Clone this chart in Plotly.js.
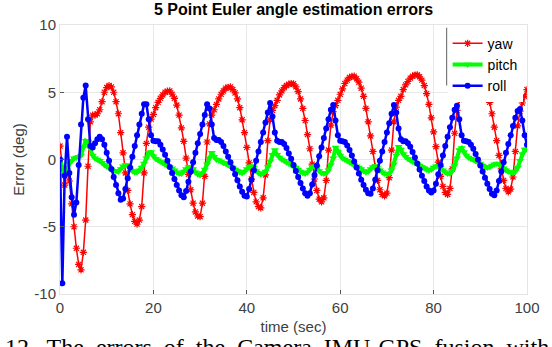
<!DOCTYPE html>
<html>
<head>
<meta charset="utf-8">
<script src="https://cdn.plot.ly/plotly-3.0.1.min.js"></script>
<style>
  html, body { margin: 0; padding: 0; background: #ffffff; }
  #chart { width: 552px; height: 347px; }
</style>
</head>
<body>
<div id="chart"></div>
<script>
// Euler angle estimation errors (deg), sampled every 0.5 s from t = 0 to 100 s
const sampleStart = 0;
const sampleStep = 0.5;

const yaw = [
  1.0, -0.6, -1.9, -0.8, -1.6, -3.3, -5.0, -6.6, -7.8, -8.2,
  -6.9, -4.5, -0.5, 2.8, 3.3, 3.3, 3.4, 3.7, 4.3, 5.0,
  5.35, 5.5, 5.4, 5.0, 4.3, 3.4, 2.0, 0.5, -1.0, -2.3,
  -3.3, -4.1, -4.6, -4.8, -4.5, -3.5, -1.0, 1.2, 2.4, 3.0,
  3.35, 3.85, 4.25, 4.55, 4.8, 5.0, 5.08, 5.1, 4.85, 4.55,
  4.05, 3.3, 2.35, 1.35, 0.1, -1.1, -2.25, -3.25, -3.9, -4.2,
  -4.25, -3.25, -1.25, 1.3, 2.65, 3.3, 3.7, 4.1, 4.5, 4.85,
  5.1, 5.3, 5.37, 5.4, 5.2, 4.95, 4.5, 3.85, 2.95, 2.0,
  0.9, -0.25, -1.45, -2.45, -3.15, -3.5, -3.6, -2.85, -1.15, 1.4,
  2.95, 3.65, 4.0, 4.4, 4.8, 5.1, 5.35, 5.5, 5.6, 5.65,
  5.63, 5.4, 5.05, 4.5, 3.8, 2.9, 1.85, 0.8, -0.35, -1.45,
  -2.3, -2.95, -3.15, -2.85, -1.55, 0.7, 2.55, 3.55, 4.0, 4.4,
  4.85, 5.25, 5.65, 5.9, 6.1, 6.18, 6.2, 6.0, 5.75, 5.3,
  4.7, 3.8, 2.8, 1.75, 0.6, -0.55, -1.55, -2.25, -2.6, -2.7,
  -2.5, -1.35, 0.7, 2.8, 3.9, 4.4, 4.7, 5.2, 5.55, 5.8,
  6.05, 6.2, 6.28, 6.3, 6.15, 5.9, 5.5, 4.9, 4.1, 3.1,
  2.05, 0.95, -0.2, -1.25, -2.0, -2.45, -2.6, -2.15, -0.7, 1.95,
  3.65, 4.45, 4.85, 5.2, 5.4, 5.6, 5.75, 5.88, 5.95, 6.0,
  6.0, 5.75, 5.4, 4.9, 4.25, 3.4, 2.4, 1.4, 0.3, -0.7,
  -1.55, -2.15, -2.4, -2.2, -1.3, 0.6, 2.5, 3.6, 4.2, 4.7,
  5.2
];

const pitch = [
  0.0, -0.6, -1.2, -0.8, -0.3, -0.1, 0.1, 0.15, 0.2, 0.3,
  0.9, 1.4, 1.3, 0.8, 0.3, 0.1, 0.0, -0.1, -0.25, -0.4,
  -0.5, -0.6, -0.75, -0.85, -0.85, -0.9, -0.7, -0.5, -0.4, -0.45,
  -0.65, -0.85, -0.95, -0.95, -0.8, -0.6, -0.3, 0.1, 0.5, 0.55,
  0.25, 0.05, -0.05, -0.15, -0.25, -0.35, -0.45, -0.55, -0.65, -0.8,
  -0.95, -1.05, -1.05, -0.9, -0.7, -0.55, -0.55, -0.7, -0.95, -1.1,
  -1.15, -1.0, -0.75, -0.35, 0.1, 0.5, 0.2, 0.0, -0.05, -0.15,
  -0.25, -0.3, -0.4, -0.5, -0.6, -0.75, -0.85, -0.95, -1.0, -0.9,
  -0.7, -0.55, -0.5, -0.6, -0.85, -1.0, -1.1, -1.05, -0.9, -0.55,
  -0.15, 0.35, 0.7, 0.35, 0.15, 0.0, -0.1, -0.2, -0.3, -0.4,
  -0.5, -0.6, -0.75, -0.9, -1.0, -1.05, -0.95, -0.75, -0.55, -0.5,
  -0.6, -0.85, -1.0, -1.05, -1.0, -0.8, -0.4, 0.1, 0.9, 0.6,
  0.3, 0.1, 0.0, -0.1, -0.2, -0.3, -0.4, -0.5, -0.6, -0.7,
  -0.85, -0.95, -0.9, -0.7, -0.55, -0.5, -0.6, -0.8, -0.95, -1.05,
  -1.1, -1.05, -0.8, -0.35, 0.3, 0.95, 0.75, 0.4, 0.2, 0.05,
  -0.05, -0.15, -0.25, -0.35, -0.45, -0.55, -0.65, -0.75, -0.8, -0.75,
  -0.6, -0.5, -0.5, -0.6, -0.8, -0.95, -1.05, -1.05, -0.85, -0.45,
  0.1, 0.7, 0.85, 0.55, 0.3, 0.15, 0.05, 0.0, -0.1, -0.2,
  -0.3, -0.45, -0.55, -0.6, -0.55, -0.45, -0.35, -0.3, -0.35, -0.5,
  -0.65, -0.8, -0.9, -0.95, -1.0, -0.9, -0.6, -0.1, 0.4, 0.75,
  0.75
];

const roll = [
  0.0, -9.2, -1.2, 1.7, -1.0, -2.8, -4.1, -3.2, -0.4, 2.6,
  4.6, 5.5, 3.0, 1.0, 0.9, 1.2, 1.5, 1.7, 1.5, 1.1,
  0.5, -0.1, -0.7, -1.3, -1.9, -2.5, -3.0, -2.9, -2.2, -1.4,
  -0.6, 0.2, 1.0, 1.8, 2.6, 3.4, 4.1, 4.1, 3.0, 1.8,
  1.4, 1.35, 1.35, 1.1, 0.75, 0.35, -0.1, -0.55, -1.0, -1.45,
  -1.9, -2.3, -2.65, -2.8, -2.35, -1.65, -0.9, -0.2, 0.5, 1.2,
  1.9, 2.6, 3.3, 4.1, 3.8, 2.6, 1.6, 1.45, 1.45, 1.3,
  1.0, 0.6, 0.2, -0.2, -0.65, -1.1, -1.55, -2.0, -2.4, -2.7,
  -2.75, -2.2, -1.5, -0.8, -0.1, 0.6, 1.3, 2.0, 2.75, 3.5,
  4.2, 3.2, 2.0, 1.4, 1.3, 1.3, 1.15, 0.85, 0.45, 0.05,
  -0.4, -0.85, -1.3, -1.75, -2.15, -2.5, -2.7, -2.5, -1.85, -1.15,
  -0.45, 0.25, 0.9, 1.6, 2.3, 3.0, 3.7, 4.05, 2.9, 1.8,
  1.4, 1.35, 1.3, 1.05, 0.7, 0.3, -0.15, -0.6, -1.05, -1.5,
  -1.9, -2.25, -2.5, -2.55, -2.15, -1.5, -0.8, -0.1, 0.6, 1.3,
  2.0, 2.7, 3.4, 4.05, 3.5, 2.3, 1.5, 1.35, 1.35, 1.2,
  0.95, 0.55, 0.15, -0.3, -0.75, -1.2, -1.6, -2.0, -2.3, -2.45,
  -2.3, -1.8, -1.1, -0.4, 0.3, 1.0, 1.7, 2.4, 3.1, 3.7,
  4.0, 3.0, 1.8, 1.4, 1.35, 1.3, 1.1, 0.8, 0.4, 0.0,
  -0.45, -0.9, -1.35, -1.8, -2.2, -2.55, -2.65, -2.3, -1.6, -0.9,
  -0.2, 0.5, 1.15, 1.8, 2.5, 3.1, 3.6, 3.75, 2.9, 1.8,
  1.1
];

const seriesNames = ['yaw', 'pitch', 'roll'];
const xTicks = [0, 20, 40, 60, 80, 100];
const yTicks = [-10, -5, 0, 5, 10];

const font = 'Liberation Sans, Arial, Helvetica, sans-serif';
const axisGrey = '#404040';

const traces = [
  {
    y: yaw, x0: sampleStart, dx: sampleStep, name: seriesNames[0],
    type: 'scatter', mode: 'lines+markers',
    line: { color: '#ff0000', width: 1.5 },
    marker: { symbol: 'asterisk-open', size: 6, color: '#ff0000', line: { color: '#ff0000', width: 1.2 } }
  },
  {
    y: pitch, x0: sampleStart, dx: sampleStep, name: seriesNames[1],
    type: 'scatter', mode: 'lines+markers',
    line: { color: '#00ff00', width: 4 },
    marker: { symbol: 'triangle-down', size: 7, color: '#00ff00' }
  },
  {
    y: roll, x0: sampleStart, dx: sampleStep, name: seriesNames[2],
    type: 'scatter', mode: 'lines+markers',
    line: { color: '#0000ff', width: 2.5 },
    marker: { symbol: 'circle', size: 6, color: '#0000ff' }
  }
];

// legend box: left edge position in paper units
const legendLeft = 0.83;

const layout = {
  width: 552, height: 347,
  margin: { l: 60, r: 25, t: 25, b: 53 },
  paper_bgcolor: '#ffffff', plot_bgcolor: '#ffffff',
  font: { family: font, size: 15, color: axisGrey },
  title: {
    text: '<b>5 Point Euler angle estimation errors</b>',
    font: { family: font, size: 16, color: '#000000' },
    x: 0.5, xref: 'paper', xanchor: 'center',
    y: 1, yref: 'container', yanchor: 'top', pad: { t: 4 }
  },
  xaxis: {
    range: [0, 100], tickvals: xTicks, ticktext: xTicks.map(String),
    showgrid: true, gridcolor: '#e8e8e8', gridwidth: 1,
    zeroline: false, showline: true, linecolor: '#e4e4e4', mirror: true,
    ticks: 'inside', ticklen: 4, tickcolor: '#555555',
    tickfont: { family: font, size: 15, color: axisGrey },
    title: { text: 'time (sec)', font: { family: font, size: 15, color: axisGrey }, standoff: 6 }
  },
  yaxis: {
    range: [-10, 10], tickvals: yTicks, ticktext: yTicks.map(String),
    showgrid: true, gridcolor: '#e8e8e8', gridwidth: 1,
    zeroline: false, showline: true, linecolor: '#e4e4e4', mirror: true,
    ticks: 'inside', ticklen: 4, tickcolor: '#555555',
    tickfont: { family: font, size: 15, color: axisGrey },
    title: { text: 'Error (deg)', font: { family: font, size: 15, color: axisGrey }, standoff: 6 }
  },
  legend: {
    x: legendLeft, xanchor: 'left', y: 0.99, yanchor: 'top',
    bgcolor: '#ffffff', borderwidth: 0,
    font: { family: font, size: 14, color: '#000000' },
    itemwidth: 30, tracegroupgap: 0
  },
  shapes: [
    { type: 'line', xref: 'paper', yref: 'paper', x0: legendLeft - 0.002, x1: legendLeft - 0.002,
      y0: 0.775, y1: 0.99, line: { color: '#606060', width: 1 } }
  ],
  annotations: [
    { text: '12.&nbsp; The&nbsp; errors&nbsp; of&nbsp; the&nbsp; Camera&nbsp; IMU-GPS&nbsp; fusion&nbsp; with',
      xref: 'paper', yref: 'paper', x: -0.122, y: -0.14, xanchor: 'left', yanchor: 'top',
      showarrow: false, font: { family: 'Liberation Serif, Times New Roman, serif', size: 24, color: '#000000' } }
  ],
  showlegend: true
};

Plotly.newPlot('chart', traces, layout, { displayModeBar: false, staticPlot: true });
</script>
</body>
</html>
